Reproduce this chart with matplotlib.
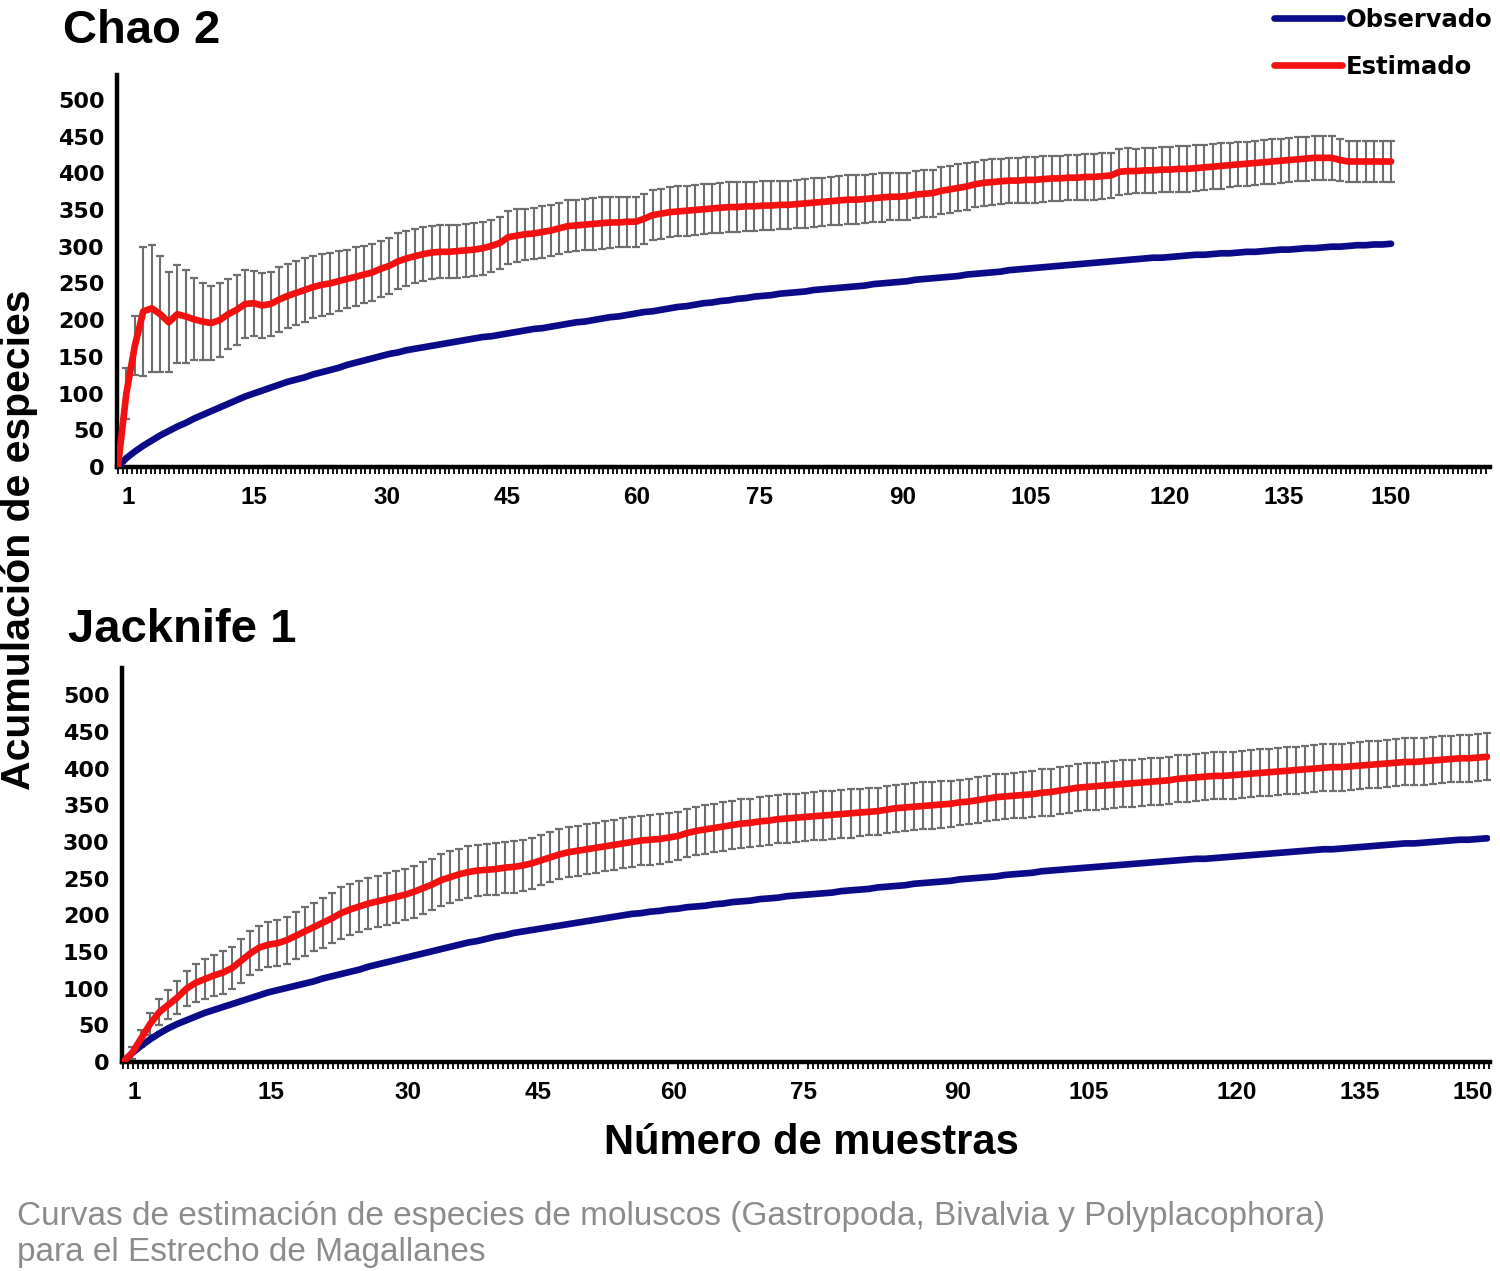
import numpy as np
import matplotlib
matplotlib.use("Agg")
import matplotlib.pyplot as plt
from matplotlib.ticker import MultipleLocator, FixedLocator, FixedFormatter

plt.rcParams['font.family'] = ['Liberation Sans', 'DejaVu Sans']

# sample number 1..150
samples = np.arange(1, 151)

# --- Chao 2 ---
chao_obs = [
    12, 21, 29, 36, 43, 49, 55, 60, 66, 71,
    76, 81, 86, 91, 96, 100, 104, 108, 112, 116,
    119, 122, 126, 129, 132, 135, 139, 142, 145, 148,
    151, 154, 156, 159, 161, 163, 165, 167, 169, 171,
    173, 175, 177, 178, 180, 182, 184, 186, 188, 189,
    191, 193, 195, 197, 198, 200, 202, 204, 205, 207,
    209, 211, 212, 214, 216, 218, 219, 221, 223, 224,
    226, 227, 229, 230, 232, 233, 234, 236, 237, 238,
    239, 241, 242, 243, 244, 245, 246, 247, 249, 250,
    251, 252, 253, 255, 256, 257, 258, 259, 260, 262,
    263, 264, 265, 266, 268, 269, 270, 271, 272, 273,
    274, 275, 276, 277, 278, 279, 280, 281, 282, 283,
    284, 285, 285, 286, 287, 288, 289, 289, 290, 291,
    291, 292, 293, 293, 294, 295, 296, 296, 297, 298,
    298, 299, 300, 300, 301, 302, 302, 303, 303, 304,
]
chao_est = [
    100, 165, 212, 216, 208, 197, 208, 205, 201, 198,
    196, 200, 208, 214, 222, 223, 220, 222, 228, 233,
    237, 241, 245, 248, 250, 253, 256, 259, 262, 265,
    270, 274, 280, 284, 287, 290, 292, 293, 293, 294,
    295, 296, 298, 301, 305, 313, 315, 317, 318, 320,
    322, 325, 328, 329, 330, 331, 332, 333, 333, 334,
    334, 338, 343, 345, 347, 348, 349, 350, 351, 352,
    353, 354, 354, 355, 355, 356, 356, 357, 357, 358,
    359, 360, 361, 362, 363, 364, 364, 365, 366, 367,
    368, 368, 369, 371, 372, 373, 376, 378, 380, 382,
    385, 387, 388, 389, 390, 390, 391, 391, 392, 393,
    393, 394, 394, 395, 395, 396, 397, 402, 403, 403,
    404, 404, 405, 405, 406, 406, 407, 408, 409, 410,
    411, 412, 413, 414, 415, 416, 417, 418, 419, 420,
    421, 421, 421, 418, 416, 416, 416, 416, 416, 416,
]
chao_err = [
    35, 40, 88, 86, 79, 68, 67, 63, 56, 52,
    50, 50, 48, 48, 46, 44, 44, 44, 44, 44,
    43, 43, 42, 42, 41, 41, 40, 40, 39, 39,
    38, 38, 38, 37, 37, 37, 36, 36, 36, 36,
    36, 36, 36, 36, 36, 36, 36, 35, 35, 35,
    35, 35, 35, 35, 35, 35, 35, 35, 34, 34,
    34, 34, 34, 34, 34, 34, 34, 34, 34, 34,
    34, 34, 34, 33, 33, 33, 33, 33, 33, 33,
    33, 33, 33, 33, 33, 33, 33, 33, 33, 33,
    32, 32, 32, 32, 32, 32, 32, 32, 32, 32,
    31, 31, 31, 31, 31, 31, 31, 31, 31, 31,
    31, 31, 31, 31, 31, 31, 31, 31, 31, 30,
    31, 31, 31, 31, 31, 31, 31, 31, 31, 31,
    30, 30, 30, 30, 30, 30, 30, 30, 30, 30,
    30, 30, 30, 29, 28, 28, 28, 28, 28, 28,
]

# --- Jacknife 1 ---
jack_obs = [
    12, 22, 31, 39, 46, 52, 57, 62, 67, 71,
    75, 79, 83, 87, 91, 95, 98, 101, 104, 107,
    110, 114, 117, 120, 123, 126, 130, 133, 136, 139,
    142, 145, 148, 151, 154, 157, 160, 163, 165, 168,
    171, 173, 176, 178, 180, 182, 184, 186, 188, 190,
    192, 194, 196, 198, 200, 202, 203, 205, 206, 208,
    209, 211, 212, 213, 215, 216, 218, 219, 220, 222,
    223, 224, 226, 227, 228, 229, 230, 231, 233, 234,
    235, 236, 238, 239, 240, 241, 243, 244, 245, 246,
    247, 249, 250, 251, 252, 253, 255, 256, 257, 258,
    260, 261, 262, 263, 264, 265, 266, 267, 268, 269,
    270, 271, 272, 273, 274, 275, 276, 277, 277, 278,
    279, 280, 281, 282, 283, 284, 285, 286, 287, 288,
    289, 290, 290, 291, 292, 293, 294, 295, 296, 297,
    298, 298, 299, 300, 301, 302, 303, 303, 304, 305,
]
jack_est = [
    12, 32, 52, 68, 78, 88, 100, 108, 113, 118,
    122, 128, 138, 148, 156, 160, 162, 166, 172, 178,
    184, 190, 196, 203, 208, 212, 216, 219, 222, 225,
    228, 232, 237, 242, 248, 252, 256, 259, 261, 262,
    263, 265, 266, 268, 271, 275, 279, 283, 286, 288,
    290, 292, 294, 296, 298, 300, 302, 303, 304, 306,
    308, 312, 315, 317, 319, 321, 323, 325, 326, 328,
    329, 331, 332, 333, 334, 335, 336, 337, 338, 339,
    340, 341, 342, 344, 346, 347, 348, 349, 350, 351,
    352, 354, 355, 357, 359, 361, 362, 363, 364, 365,
    367, 368, 370, 372, 374, 375, 376, 377, 378, 379,
    380, 381, 382, 383, 384, 386, 387, 388, 389, 390,
    390, 391, 392, 393, 394, 395, 396, 397, 398, 399,
    400, 401, 402, 402, 403, 404, 405, 406, 407, 408,
    409, 409, 410, 411, 412, 413, 414, 414, 415, 416,
]
jack_err = [
    8, 12, 15, 18, 20, 22, 24, 26, 27, 28,
    29, 29, 30, 30, 30, 31, 31, 32, 32, 33,
    33, 34, 34, 35, 35, 35, 35, 35, 35, 35,
    35, 35, 35, 35, 35, 35, 35, 35, 35, 35,
    35, 35, 35, 35, 35, 34, 34, 34, 34, 34,
    34, 34, 34, 34, 34, 34, 34, 34, 34, 34,
    33, 33, 33, 33, 33, 33, 33, 33, 33, 33,
    33, 33, 33, 33, 33, 33, 33, 33, 33, 33,
    32, 32, 32, 32, 32, 32, 32, 32, 32, 32,
    31, 31, 31, 31, 31, 31, 31, 31, 31, 31,
    32, 32, 32, 32, 32, 32, 32, 32, 32, 32,
    32, 32, 32, 32, 32, 32, 32, 32, 32, 32,
    32, 32, 32, 32, 32, 32, 32, 32, 32, 32,
    32, 32, 32, 32, 32, 32, 32, 32, 32, 32,
    32, 32, 32, 32, 32, 32, 32, 32, 32, 32,
]

xtick_labels = ['1', '15', '30', '45', '60', '75', '90', '105', '120', '135', '150']
ytick_values = [0, 50, 100, 150, 200, 250, 300, 350, 400, 450, 500]

# where the labels sit on each axis (layout)
chao_tick_pos = [1.2, 16.0, 31.7, 45.9, 61.1, 75.6, 92.5, 107.6, 123.9, 137.3, 150.0]
jack_tick_pos = [1.2, 16.3, 31.3, 45.6, 60.5, 74.8, 91.8, 106.2, 122.5, 136.0, 148.4]

BLUE = '#0b0b8a'
RED = '#f21010'


def draw_panel(ax, obs, est, err, tick_pos, xmax, ymax):
    x0 = np.concatenate([[0], samples])
    _, caps, bars = ax.errorbar(samples, est, yerr=err, fmt='none', ecolor='#6e6e6e',
                                elinewidth=1.5, capsize=3.1, capthick=1.6, zorder=2)
    for c in caps:
        c.set_color('#1e1e1e')
    l_obs, = ax.plot(x0, np.concatenate([[0], obs]), color=BLUE, lw=4.8,
                     solid_capstyle='round', solid_joinstyle='round', zorder=3)
    l_est, = ax.plot(x0, np.concatenate([[0], est]), color=RED, lw=4.8,
                     solid_capstyle='round', solid_joinstyle='round', zorder=4)
    ax.set_xlim(-0.1, xmax)
    ax.set_ylim(0, ymax)
    for s in ['top', 'right']:
        ax.spines[s].set_visible(False)
    for s in ['left', 'bottom']:
        ax.spines[s].set_linewidth(3.2)
        ax.spines[s].set_color('black')
    ax.set_yticks(ytick_values)
    ax.set_yticklabels([str(v) for v in ytick_values])
    ax.tick_params(axis='y', length=0, pad=9)
    ax.xaxis.set_major_locator(FixedLocator(tick_pos))
    ax.xaxis.set_major_formatter(FixedFormatter(xtick_labels))
    ax.xaxis.set_minor_locator(MultipleLocator(0.55))
    ax.tick_params(axis='x', which='major', length=0, pad=14)
    ax.tick_params(axis='x', which='minor', length=5, width=1.3, direction='out')
    for lab in ax.get_yticklabels():
        lab.set_fontweight('bold')
        lab.set_fontsize(16)
        lab.set_family(['DejaVu Sans'])
    for lab in ax.get_xticklabels():
        lab.set_fontweight('bold')
        lab.set_fontsize(17.5)
    return l_obs, l_est


fig = plt.figure(figsize=(15, 12.71), dpi=100)

ax1 = fig.add_axes([0.078, 0.6326, 0.915, 0.3085])
h_obs, h_est = draw_panel(ax1, chao_obs, chao_est, chao_err, chao_tick_pos, 161.6, 534)

ax2 = fig.add_axes([0.0813, 0.1644, 0.912, 0.31])
draw_panel(ax2, jack_obs, jack_est, jack_err, jack_tick_pos, 150.3, 537)

fig.text(0.042, 0.976, 'Chao 2', fontsize=34, fontweight='bold', va='center', ha='left')
fig.text(0.0453, 0.504, 'Jacknife 1', fontsize=34, fontweight='bold', va='center', ha='left')

fig.text(0.0125, 0.575, 'Acumulación de especies', rotation=90, fontsize=29.5,
         fontweight='bold', va='center', ha='center')
fig.text(0.541, 0.1007, 'Número de muestras', fontsize=30, fontweight='bold',
         va='center', ha='center')

fig.text(0.0113, 0.0425, 'Curvas de estimación de especies de moluscos (Gastropoda, Bivalvia y Polyplacophora)',
         fontsize=24, color='#8c8c8c', va='center', ha='left')
fig.text(0.0113, 0.0142, 'para el Estrecho de Magallanes',
         fontsize=24, color='#8c8c8c', va='center', ha='left')

leg = fig.legend([h_obs, h_est], ['Observado', 'Estimado'], loc='upper right',
                 bbox_to_anchor=(1.0095, 1.011), frameon=False, handlelength=2.8,
                 handletextpad=0.15, labelspacing=0.95,
                 prop={'weight': 'bold', 'size': 17.5, 'family': ['DejaVu Sans']})

fig.savefig('out.png', dpi=100)
